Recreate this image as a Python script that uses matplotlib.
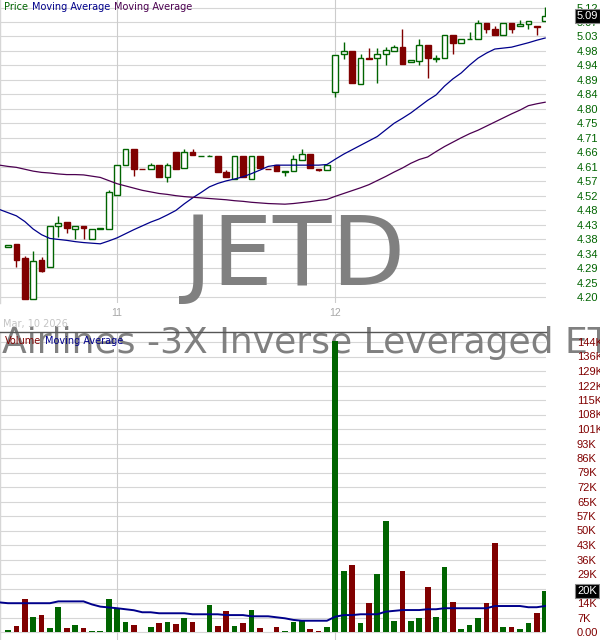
import matplotlib
matplotlib.use("Agg")
import matplotlib.pyplot as plt
from matplotlib.patches import Rectangle
from matplotlib.transforms import blended_transform_factory

# ---------------- data ----------------
ticker = "JETD"
fund_name = "Airlines -3X Inverse Leveraged ETN"
date_label = "Mar, 10 2026"
month_ticks = [13, 39]
month_labels = ["11", "12"]

opens = [4.360, 4.367, 4.325, 4.194, 4.316, 4.296, 4.427, 4.437, 4.417, 4.427,
         4.384, 4.417, 4.417, 4.525, 4.618, 4.669, 4.608, 4.608, 4.618, 4.580,
         4.662, 4.611, 4.662, 4.647, 4.647, 4.647, 4.596, 4.576, 4.647, 4.576,
         4.647, 4.608, 4.618, 4.597, 4.599, 4.635, 4.654, 4.608, 4.603, 4.850,
         4.971, 4.982, 4.877, 4.958, 4.958, 4.971, 4.982, 4.993, 4.948, 4.950,
         5.001, 4.957, 4.958, 5.032, 5.006, 5.019, 5.019, 5.070, 5.051, 5.032,
         5.070, 5.060, 5.067, 5.062, 5.078]
highs = [4.366, 4.367, 4.331, 4.345, 4.326, 4.427, 4.456, 4.437, 4.427, 4.427,
         4.417, 4.418, 4.539, 4.618, 4.669, 4.669, 4.608, 4.627, 4.618, 4.626,
         4.662, 4.669, 4.669, 4.648, 4.650, 4.647, 4.605, 4.647, 4.647, 4.647,
         4.647, 4.608, 4.618, 4.599, 4.650, 4.669, 4.654, 4.608, 4.619, 4.969,
         5.011, 4.982, 4.972, 4.990, 4.990, 4.995, 5.001, 5.052, 4.952, 5.020,
         5.001, 4.969, 5.032, 5.032, 5.019, 5.041, 5.080, 5.070, 5.061, 5.070,
         5.070, 5.080, 5.078, 5.062, 5.122]
lows = [4.360, 4.295, 4.195, 4.194, 4.281, 4.296, 4.392, 4.403, 4.384, 4.384,
        4.384, 4.417, 4.417, 4.525, 4.618, 4.586, 4.607, 4.608, 4.580, 4.567,
        4.608, 4.611, 4.650, 4.647, 4.647, 4.596, 4.580, 4.576, 4.580, 4.576,
        4.611, 4.607, 4.599, 4.586, 4.599, 4.635, 4.611, 4.600, 4.603, 4.836,
        4.956, 4.881, 4.877, 4.955, 4.879, 4.937, 4.982, 4.942, 4.948, 4.937,
        4.897, 4.946, 4.958, 4.971, 5.006, 5.019, 5.019, 5.040, 5.033, 5.032,
        5.040, 5.060, 5.051, 5.032, 5.078]
closes = [4.366, 4.319, 4.195, 4.315, 4.284, 4.427, 4.436, 4.419, 4.427, 4.419,
          4.417, 4.418, 4.535, 4.618, 4.669, 4.608, 4.607, 4.618, 4.580, 4.618,
          4.608, 4.662, 4.650, 4.648, 4.648, 4.596, 4.580, 4.647, 4.580, 4.647,
          4.611, 4.607, 4.599, 4.599, 4.637, 4.656, 4.611, 4.603, 4.619, 4.969,
          4.982, 4.881, 4.958, 4.955, 4.972, 4.985, 4.993, 4.942, 4.952, 5.000,
          4.960, 4.958, 5.032, 5.008, 5.019, 5.020, 5.070, 5.053, 5.033, 5.070,
          5.053, 5.067, 5.078, 5.059, 5.093]

# moving averages, first value is the day before the first candle
ma_short = [4.478, 4.468, 4.458, 4.440, 4.416, 4.398, 4.386, 4.383, 4.380, 4.376,
            4.373, 4.371, 4.369, 4.378, 4.388, 4.401, 4.414, 4.426, 4.438, 4.448,
            4.461, 4.475, 4.496, 4.515, 4.532, 4.550, 4.561, 4.569, 4.575, 4.582,
            4.592, 4.603, 4.615, 4.619, 4.619, 4.619, 4.619, 4.619, 4.619, 4.621,
            4.638, 4.654, 4.668, 4.682, 4.696, 4.710, 4.731, 4.752, 4.768, 4.785,
            4.805, 4.825, 4.842, 4.870, 4.893, 4.912, 4.937, 4.959, 4.975, 4.988,
            4.991, 4.994, 5.001, 5.008, 5.016, 5.023]
ma_long = [4.619, 4.615, 4.612, 4.606, 4.600, 4.596, 4.594, 4.591, 4.589, 4.589,
           4.588, 4.584, 4.580, 4.570, 4.560, 4.553, 4.546, 4.539, 4.534, 4.529,
           4.526, 4.522, 4.519, 4.517, 4.515, 4.513, 4.511, 4.509, 4.506, 4.504,
           4.501, 4.499, 4.497, 4.496, 4.495, 4.497, 4.500, 4.503, 4.507, 4.510,
           4.520, 4.529, 4.538, 4.547, 4.557, 4.570, 4.583, 4.597, 4.610, 4.625,
           4.637, 4.645, 4.662, 4.678, 4.692, 4.706, 4.719, 4.730, 4.743, 4.756,
           4.769, 4.782, 4.794, 4.808, 4.814, 4.819]

volumes = [1000, 3000, 16400, 7400, 8400, 2000, 12400, 2000, 3500, 2000,
           500, 500, 16400, 11800, 5000, 3500, 0, 2500, 4500, 5000,
           4000, 7000, 5000, 0, 13400, 3000, 10400, 3000, 4500, 10900,
           2000, 0, 2500, 500, 5000, 5500, 1500, 500, 2500, 144500,
           30300, 33300, 4500, 14400, 28800, 55100, 5500, 30300, 5500, 7000,
           22300, 7400, 32300, 14900, 1500, 3500, 7000, 14400, 44200, 2500,
           2500, 1500, 4500, 9400, 20400]
vol_ma = [14700, 14300, 14300, 14300, 14300, 14300, 14300, 15200, 15200, 15200,
          15200, 13700, 12600, 12200, 11800, 11300, 10800, 9800, 9800, 9300,
          9300, 9300, 9300, 8800, 8800, 8800, 8800, 8400, 8400, 8400,
          7800, 7800, 7800, 7300, 6800, 6000, 5600, 5600, 5600, 5600,
          7600, 8400, 8400, 8800, 8800, 8800, 10100, 10500, 10900, 10900,
          10900, 11300, 11300, 11800, 11800, 11800, 11800, 11800, 11800, 12900,
          12900, 12900, 12900, 12300, 12300, 12900]

price_ticks = [4.20 + 0.046 * k for k in range(21)]
price_tick_labels = [f"{v:.2f}" for v in price_ticks]
vol_ticks = [7200 * k for k in range(21)]
vol_tick_labels = ["0.00", "7K", "14K", "22K", "29K", "36K", "43K", "50K", "57K", "65K",
                   "72K", "79K", "86K", "93K", "101K", "108K", "115K", "122K", "129K",
                   "136K", "144K"]
last_price_label = "5.09"
last_volume_label = "20K"

# ---------------- style ----------------
GREEN = "#006400"
RED = "#800000"
NAVY = "#00008B"
PURPLE = "#4B0050"
GRID = "#d6d6d6"
W, H = 600, 640

fig = plt.figure(figsize=(6, 6.4), dpi=100)

ax = fig.add_axes([0, (H - 303) / H, 546 / W, 303 / H])
axv = fig.add_axes([0, 0, 546 / W, 308 / H])

n = len(closes)
idx = list(range(n))
ma_idx = list(range(-1, n))

# price axis limits (5.12 at y=7.5px, 4.20 at y=297px)
ppx = 289.5 / 0.92
ax.set_ylim(4.20 - 6 / ppx, 5.12 + 7.5 / ppx)
ax.set_xlim(-0.95, n - 0.9)
axv.set_xlim(-0.95, n - 0.9)
vpx = 290 / 144000
axv.set_ylim(-8 / vpx, 144000 + 10 / vpx)

for a in (ax, axv):
    for s in a.spines.values():
        s.set_visible(False)
    a.spines["left"].set_visible(True)
    a.spines["left"].set_color(GRID)
    a.spines["left"].set_linewidth(1.0)
    a.set_facecolor("white")
axv.spines["top"].set_visible(True)
axv.spines["top"].set_color("#555555")
axv.spines["top"].set_linewidth(1.0)

# gridlines drawn from tick arrays
for v in price_ticks:
    ax.axhline(v, color=GRID, lw=0.8, zorder=0.3)
for v in vol_ticks:
    axv.axhline(v, color=GRID, lw=0.8, zorder=0.3)
for m in month_ticks:
    ax.axvline(m, color="#cccccc", lw=0.8, zorder=0.3)
    axv.axvline(m, color="#cccccc", lw=0.8, zorder=0.3)

# ticks
ax.yaxis.tick_right()
ax.set_yticks(price_ticks)
ax.set_yticklabels(price_tick_labels, fontfamily="Liberation Sans")
ax.tick_params(axis="y", length=0, pad=22.3, labelcolor=GREEN, labelsize=8)
ax.set_xticks(month_ticks)
ax.set_xticklabels(month_labels, fontfamily="Liberation Sans")
ax.tick_params(axis="x", length=0, pad=3.3, labelcolor="#a8a8a8", labelsize=7.5)

axv.yaxis.tick_right()
axv.set_yticks(vol_ticks)
axv.set_yticklabels(vol_tick_labels, fontfamily="Liberation Sans")
axv.tick_params(axis="y", length=0, pad=22.3, labelcolor=RED, labelsize=8)
axv.set_xticks([])

# watermarks
ax.text(295 / W, 1 - 285 / H, ticker, transform=fig.transFigure, ha="center",
        va="baseline", fontsize=69, color="#808080", zorder=1, clip_on=False,
        fontfamily="DejaVu Sans")
axv.text(2 / W, 1 - 353 / H, fund_name, transform=fig.transFigure, ha="left",
         va="baseline", fontsize=26, color="#808080", zorder=1, clip_on=False,
         fontfamily="DejaVu Sans")

# candles
body_w = 0.68
for i in idx:
    o, hi, lo, c = opens[i], highs[i], lows[i], closes[i]
    up = c >= o
    col = GREEN if up else RED
    ax.vlines(i, lo, hi, color=col, lw=1.0, zorder=2)
    bottom = min(o, c)
    height = abs(c - o)
    ax.add_patch(Rectangle((i - body_w / 2, bottom), body_w, height,
                           facecolor="white" if up else RED, edgecolor=col,
                           lw=1.0, zorder=2.1))

ax.plot(ma_idx, ma_short, color=NAVY, lw=0.9, zorder=3)
ax.plot(ma_idx, ma_long, color=PURPLE, lw=0.9, zorder=3)

# volume
vcolors = [GREEN if closes[i] >= opens[i] else RED for i in idx]
axv.bar(idx, volumes, width=body_w, color=vcolors, zorder=2)
axv.plot(ma_idx, vol_ma, color=NAVY, lw=1.4, zorder=3)

# value boxes
tr = blended_transform_factory(ax.transAxes, ax.transData)
ax.text(577 / 546, closes[-1], last_price_label, transform=tr, ha="left", va="center",
        fontsize=8, color="white", fontfamily="Liberation Sans", clip_on=False, zorder=5,
        bbox=dict(boxstyle="square,pad=0.18", facecolor="black", edgecolor="#888888", lw=0.8))
trv = blended_transform_factory(axv.transAxes, axv.transData)
axv.text(577 / 546, volumes[-1], last_volume_label, transform=trv, ha="left", va="center",
         fontsize=8, color="white", fontfamily="Liberation Sans", clip_on=False, zorder=5,
         bbox=dict(boxstyle="square,pad=0.18", facecolor="black", edgecolor="#888888", lw=0.8))

# legends
renderer = fig.canvas.get_renderer()


def put_texts(x_px, y_px, parts, size=7):
    x = x_px
    for s, c in parts:
        t = fig.text(x / W, 1 - y_px / H, s, color=c, fontsize=size, va="center",
                     ha="left", fontfamily="DejaVu Sans", zorder=6)
        bb = t.get_window_extent(renderer=renderer)
        x += bb.width + 4


put_texts(4, 7, [("Price", GREEN), ("Moving Average", NAVY), ("Moving Average", PURPLE)])
put_texts(5, 341, [("Volume", RED), ("Moving Average", NAVY)])
fig.text(3 / W, 1 - 324 / H, date_label, color="#c4c4c4", fontsize=7, va="center",
         ha="left", fontfamily="DejaVu Sans")

fig.savefig("out.png", dpi=100, facecolor="white")
